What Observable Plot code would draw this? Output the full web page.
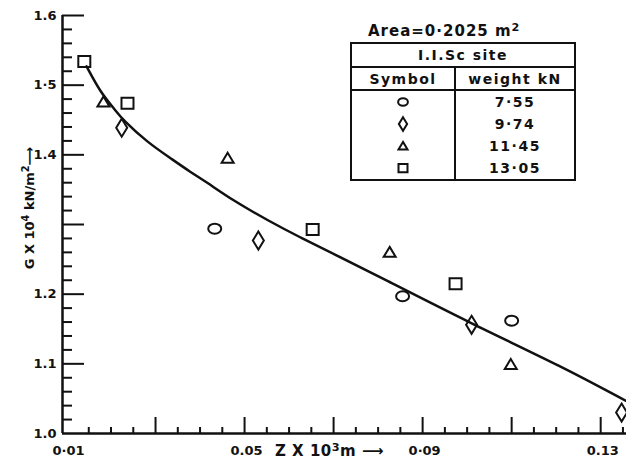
<!DOCTYPE html>
<html><head><meta charset="utf-8">
<script src="https://cdn.jsdelivr.net/npm/d3@7"></script>
<script src="https://cdn.jsdelivr.net/npm/@observablehq/plot@0.6"></script>
<style>
body{margin:0;background:#fff;}
#wrap{position:relative;width:626px;height:463px;overflow:hidden;font-family:"DejaVu Sans",sans-serif;font-weight:bold;color:#111;background:#fff;}
#wrap > svg{position:absolute;left:0;top:0;}
.lbl{position:absolute;white-space:nowrap;line-height:1;}
sup{font-size:0.75em;vertical-align:0.45em;line-height:0;}
#legend{position:absolute;left:350px;top:42px;width:226px;border-collapse:collapse;font-size:14px;}
#legend td{border:2px solid #111;padding:0;text-align:center;letter-spacing:1.5px;}
#legend tr.data td{border-top:none;border-bottom:none;height:22px;}
#legend tr.data.last td{border-bottom:2px solid #111;}
#legend svg{display:block;margin:auto;}
</style></head><body><div id="wrap"></div>
<script>
// ---- data ----
const xDomain = [0.0091, 0.1358];
const yDomain = [1.0, 1.6];

const circleX   = [0.0433, 0.0855, 0.110];
const circleY   = [1.294, 1.197, 1.162];
const diamondX  = [0.0224, 0.0531, 0.101, 0.1347];
const diamondY  = [1.439, 1.277, 1.156, 1.030];
const triangleX = [0.0183, 0.0462, 0.0826, 0.1098];
const triangleY = [1.476, 1.395, 1.260, 1.099];
const squareX   = [0.0140, 0.0237, 0.0653, 0.0974];
const squareY   = [1.534, 1.474, 1.293, 1.215];

const curveX = [0.0145, 0.0176, 0.0206, 0.0228, 0.0282, 0.0334, 0.0379, 0.0412, 0.0475, 0.0552, 0.0626, 0.0700, 0.0806, 0.1008, 0.1217, 0.1356];
const curveY = [1.527, 1.490, 1.467, 1.449, 1.418, 1.395, 1.375, 1.362, 1.334, 1.306, 1.281, 1.258, 1.224, 1.158, 1.095, 1.047];

const seriesNames = ["circle", "diamond", "triangle", "square"];
const weights = ["7·55", "9·74", "11·45", "13·05"];

const xTickValues = [0.01, 0.05, 0.09, 0.13];
const xTickLabels = ["0·01", "0.05", "0·09", "0.13"];
const xMajor = [0.03, 0.05, 0.07, 0.09, 0.11, 0.13];
const xMinor = [0.015, 0.02, 0.025, 0.035, 0.04, 0.045, 0.055, 0.06, 0.065, 0.075, 0.08, 0.085, 0.095, 0.10, 0.105, 0.115, 0.12, 0.125, 0.135];
const yTickValues = [1.0, 1.1, 1.2, 1.4, 1.5, 1.6];
const yTickLabels = ["1.0", "1.1", "1.2", "1.4", "1·5", "1.6"];
const yMajor = [1.1, 1.2, 1.3, 1.4, 1.5, 1.6];
const yMinor = [1.02, 1.04, 1.06, 1.08, 1.12, 1.14, 1.16, 1.18, 1.22, 1.24, 1.26, 1.28, 1.32, 1.34, 1.36, 1.38, 1.42, 1.44, 1.46, 1.48, 1.52, 1.54, 1.56, 1.58];

// ---- layout ----
const W = 626, H = 463, ML = 62, MR = 0, MT = 15, MB = 30;
const frameW = W - ML - MR, frameH = H - MT - MB;
const pxX = frameW / (xDomain[1] - xDomain[0]);   // pixels per x unit
const pxY = frameH / (yDomain[1] - yDomain[0]);   // pixels per y unit
const ink = "#111";

// ---- symbols ----
function ell(c, rx, ry){const k=0.5523;c.moveTo(rx,0);c.bezierCurveTo(rx,ry*k,rx*k,ry,0,ry);c.bezierCurveTo(-rx*k,ry,-rx,ry*k,-rx,0);c.bezierCurveTo(-rx,-ry*k,-rx*k,-ry,0,-ry);c.bezierCurveTo(rx*k,-ry,rx,-ry*k,rx,0);c.closePath();}
const symbolShapes = {
  circle:  {draw(c,size){const s=Math.sqrt(size/Math.PI)/6; ell(c,6.5*s,5*s);}},
  diamond: {draw(c,size){const s=Math.sqrt(size/Math.PI)/6; c.moveTo(0,-9*s);c.lineTo(5.5*s,0);c.lineTo(0,9*s);c.lineTo(-5.5*s,0);c.closePath();}},
  triangle:{draw(c,size){const s=Math.sqrt(size/Math.PI)/6; c.moveTo(0,-5.5*s);c.lineTo(6*s,4.5*s);c.lineTo(-6*s,4.5*s);c.closePath();}},
  square:  {draw(c,size){const s=Math.sqrt(size/Math.PI)/6; c.rect(-6*s,-5.5*s,12*s,11*s);}}
};
const seriesData = {
  circle: circleX.map((x,i)=>({x, y: circleY[i]})),
  diamond: diamondX.map((x,i)=>({x, y: diamondY[i]})),
  triangle: triangleX.map((x,i)=>({x, y: triangleY[i]})),
  square: squareX.map((x,i)=>({x, y: squareY[i]}))
};
const curve = curveX.map((x,i)=>({x, y: curveY[i]}));

// inward tick segments as rules (length given in pixels, converted through the scale ratio)
const yTickRule = (vals, len) => Plot.ruleY(vals, {y: d=>d, x1: xDomain[0], x2: xDomain[0] + len / pxX, stroke: ink, strokeWidth: 2});
const xTickRule = (vals, len) => Plot.ruleX(vals, {x: d=>d, y1: yDomain[0], y2: yDomain[0] + len / pxY, stroke: ink, strokeWidth: 2});

const plot = Plot.plot({
  width: W, height: H,
  marginLeft: ML, marginRight: MR, marginTop: MT, marginBottom: MB,
  x: {domain: xDomain, axis: null},
  y: {domain: yDomain, axis: null},
  style: {fontFamily: "DejaVu Sans, sans-serif", fontWeight: "bold", fontSize: "13px", color: ink, background: "white"},
  marks: [
    yTickRule(yMajor, 22),
    yTickRule(yMinor, 10),
    xTickRule(xMajor, 16),
    xTickRule(xMinor, 6),
    Plot.ruleX([xDomain[0]], {stroke: ink, strokeWidth: 2.5}),
    Plot.ruleY([yDomain[0]], {stroke: ink, strokeWidth: 2.5}),
    Plot.text(xTickValues, {x: d=>d, text: (d,i)=>xTickLabels[i], frameAnchor: "bottom", dy: 17, dx: 2, lineAnchor: "middle", fill: ink}),
    Plot.text(yTickValues, {y: d=>d, text: (d,i)=>yTickLabels[i], frameAnchor: "left", textAnchor: "end", dx: -6, fill: ink}),
    Plot.line(curve, {x: "x", y: "y", curve: "basis", stroke: ink, strokeWidth: 2.5}),
    ...seriesNames.map(n => Plot.dot(seriesData[n], {x: "x", y: "y", symbol: symbolShapes[n], r: 6, stroke: ink, strokeWidth: 2, fill: "none"}))
  ]
});

const wrap = document.getElementById("wrap");
wrap.appendChild(plot);

// axis titles
const yt = document.createElement("div");
yt.className = "lbl";
yt.style.cssText = "left:29px;top:208px;font-size:13px;transform:translate(-50%,-50%) rotate(-90deg);";
yt.innerHTML = "G X 10<sup>4</sup> kN/m<sup>2</sup>&#x27F6;";
wrap.appendChild(yt);

const xt = document.createElement("div");
xt.className = "lbl";
xt.style.cssText = "left:275px;top:444px;font-size:15px;letter-spacing:0.5px;";
xt.innerHTML = "Z X 10<sup>3</sup>m &#x27F6;";
wrap.appendChild(xt);

// legend
const area = document.createElement("div");
area.className = "lbl";
area.style.cssText = "left:368px;top:24px;font-size:15px;letter-spacing:1px;";
area.innerHTML = "Area=0·2025 m<sup>2</sup>";
wrap.appendChild(area);

function symSvg(n){
  const p = d3.path();
  symbolShapes[n].draw(p, Math.PI*4.5*4.5);
  return `<svg width="20" height="18" viewBox="-10 -9 20 18"><path d="${p}" fill="none" stroke="${ink}" stroke-width="2"/></svg>`;
}
const tbl = document.createElement("table");
tbl.id = "legend";
let html = `<tr><td colspan="2" style="height:22px">I.I.Sc site</td></tr>`;
html += `<tr><td style="width:102px;height:21px">Symbol</td><td style="height:21px">weight kN</td></tr>`;
seriesNames.forEach((n,i)=>{
  html += `<tr class="data${i===seriesNames.length-1?" last":""}"><td>${symSvg(n)}</td><td>${weights[i]}</td></tr>`;
});
tbl.innerHTML = html;
wrap.appendChild(tbl);
</script></body></html>
